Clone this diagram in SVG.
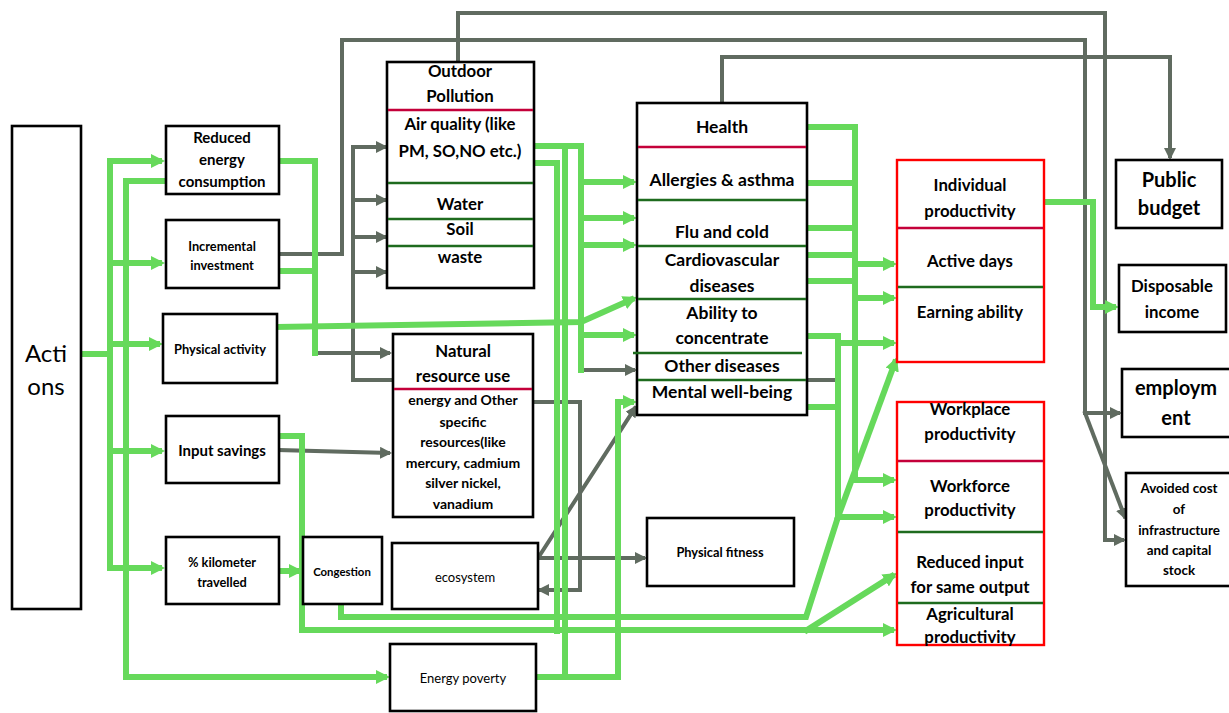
<svg xmlns="http://www.w3.org/2000/svg" width="1229" height="713" viewBox="0 0 1229 713">
<style>
.box{fill:#fff;stroke:#000;stroke-width:2.6}
.rbox{fill:#fff;stroke:#ff0000;stroke-width:2.4}
.sepr{stroke:#c4003a;stroke-width:2.5}
.sepg{stroke:#1e6b1e;stroke-width:2.5}
.g{fill:none;stroke:#66d95b;stroke-width:6;stroke-linecap:square;stroke-linejoin:miter}
.r{fill:none;stroke:#606b60;stroke-width:4;stroke-linecap:square;stroke-linejoin:miter}
.ga{marker-end:url(#ag)}
.ra{marker-end:url(#ar)}
text{font-family:Lato,"Liberation Sans",sans-serif;fill:#000;text-anchor:middle}
.b16{font-size:16.8px;font-weight:bold}
.h{font-size:17.5px;font-weight:bold}
.b14{font-size:15px;font-weight:bold}
.b13{font-size:14px;font-weight:bold}
.b12{font-size:12.8px;font-weight:bold}
.b11{font-size:11.4px;font-weight:bold}
.b20{font-size:20px;font-weight:bold}
.av{font-size:13.4px;font-weight:bold}
.n13{font-size:13px}
.n24{font-size:24px}
</style>
<defs>
<marker id="ag" markerUnits="userSpaceOnUse" markerWidth="14" markerHeight="14" refX="8" refY="7" orient="auto"><path d="M0,0 L14,7 L0,14 z" fill="#66d95b"/></marker>
<marker id="ar" markerUnits="userSpaceOnUse" markerWidth="12" markerHeight="12" refX="8" refY="6" orient="auto"><path d="M0,0 L12,6 L0,12 z" fill="#606b60"/></marker>
</defs>
<rect width="1229" height="713" fill="#fff"/>
<g id="connectors">
<path class="r ra" d="M279,254 H342 V40 H1085 V413 H1118"/>
<path class="r ra" d="M1085,413 L1124.6,516.3"/>
<path class="r ra" d="M458,62 V13 H1105 V540 H1122"/>
<path class="r ra" d="M722,102 V57 H1170 V156"/>
<path class="r ra" d="M392,380 H353 V147 H384"/>
<path class="r ra" d="M353,200 H384"/>
<path class="r ra" d="M353,237 H384"/>
<path class="r ra" d="M353,272 H384"/>
<path class="r ra" d="M315,353 H388"/>
<path class="r ra" d="M279,450 L388,453"/>
<path class="r ra" d="M533,402 H580 V590 H541"/>
<path class="r ra" d="M538,558 H643"/>
<path class="r ra" d="M538,558 L634.8,408.3"/>
<path class="r ra" d="M581,370 H633"/>
<path class="r" d="M807,380 H835"/>
<path class="g" d="M80,354 H110"/>
<path class="g" d="M110,161 V568"/>
<path class="g ga" d="M110,161 H159"/>
<path class="g ga" d="M110,263 H159"/>
<path class="g ga" d="M110,344 H157"/>
<path class="g ga" d="M110,451 H159"/>
<path class="g ga" d="M110,568 H159"/>
<path class="g ga" d="M165,181 H126 V677 H384"/>
<path class="g" d="M279,161 H315 V353"/>
<path class="g" d="M279,271 H315"/>
<path class="g ga" d="M277,327 L581,322 L631.5,299.4"/>
<path class="g" d="M533,146 H581 V370"/>
<path class="g" d="M533,163 H557 V631"/>
<path class="g" d="M565,146 V677"/>
<path class="g ga" d="M581,182 H631"/>
<path class="g ga" d="M581,218 H631"/>
<path class="g ga" d="M581,245 H631"/>
<path class="g ga" d="M581,335 H631"/>
<path class="g ga" d="M279,436 H302 V630 H891"/>
<path class="g ga" d="M807,630 L891.9,576.2"/>
<path class="g" d="M341,604 V617 H806 L838,517"/>
<path class="g ga" d="M279,571 H297"/>
<path class="g ga" d="M536,677 H618 V402 H631"/>
<path class="g ga" d="M807,127 H855 V480 H891"/>
<path class="g" d="M807,183 H855"/>
<path class="g" d="M807,228 H855"/>
<path class="g" d="M807,255 H855"/>
<path class="g" d="M807,281 H855"/>
<path class="g ga" d="M855,264 H891"/>
<path class="g ga" d="M855,298 H891"/>
<path class="g ga" d="M807,336 H838 V517 H891"/>
<path class="g" d="M807,407 H838"/>
<path class="g ga" d="M838,343 H891"/>
<path class="g ga" d="M838,517 L894.9,362.6"/>
<path class="g ga" d="M1044,202 H1093 V307 H1113"/>
</g>
<g id="actions">
<rect class="box" x="12" y="126" width="69" height="483"/>
<text class="n24" x="46" y="362">Acti</text>
<text class="n24" x="46" y="395">ons</text>
</g>
<g id="reduced-energy">
<rect class="box" x="166" y="126" width="113" height="68"/>
<text class="b14" x="222" y="143">Reduced</text>
<text class="b14" x="222" y="165">energy</text>
<text class="b14" x="222" y="187">consumption</text>
</g>
<g id="incremental-investment">
<rect class="box" x="166" y="220" width="113" height="68"/>
<text class="b12" x="222" y="251">Incremental</text>
<text class="b12" x="222" y="270">investment</text>
</g>
<g id="physical-activity">
<rect class="box" x="163" y="314" width="114" height="69"/>
<text class="b12" x="220" y="354">Physical activity</text>
</g>
<g id="input-savings">
<rect class="box" x="166" y="416" width="113" height="67"/>
<text class="b14" x="222" y="456">Input savings</text>
</g>
<g id="km-travelled">
<rect class="box" x="166" y="537" width="113" height="67"/>
<text class="b12" x="222" y="567">% kilometer</text>
<text class="b12" x="222" y="587">travelled</text>
</g>
<g id="congestion">
<rect class="box" x="303" y="537" width="79" height="67"/>
<text class="b11" x="342" y="576">Congestion</text>
</g>
<g id="outdoor-pollution">
<rect class="box" x="387" y="62" width="147" height="226"/>
<line class="sepr" x1="388" y1="110" x2="533" y2="110"/>
<line class="sepg" x1="388" y1="183" x2="533" y2="183"/>
<line class="sepg" x1="388" y1="219" x2="533" y2="219"/>
<line class="sepg" x1="388" y1="246" x2="533" y2="246"/>
<text class="b16" x="460" y="77">Outdoor</text>
<text class="b16" x="460" y="102">Pollution</text>
<text class="b16" x="460" y="130">Air quality (like</text>
<text class="b16" x="460" y="157">PM, SO,NO etc.)</text>
<text class="b16" x="460" y="210">Water</text>
<text class="b16" x="460" y="235">Soil</text>
<text class="b16" x="460" y="263">waste</text>
</g>
<g id="natural-resource-use">
<rect class="box" x="393" y="334" width="140" height="183"/>
<line class="sepr" x1="394" y1="389" x2="532" y2="389"/>
<text class="b16" x="463" y="357">Natural</text>
<text class="b16" x="463" y="382">resource use</text>
<text class="b13" x="463" y="405">energy and Other</text>
<text class="b13" x="463" y="427">specific</text>
<text class="b13" x="463" y="447">resources(like</text>
<text class="b13" x="463" y="468">mercury, cadmium</text>
<text class="b13" x="463" y="488">silver nickel,</text>
<text class="b13" x="463" y="509">vanadium</text>
</g>
<g id="ecosystem">
<rect class="box" x="392" y="543" width="146" height="66"/>
<text class="n13" x="465" y="582">ecosystem</text>
</g>
<g id="energy-poverty">
<rect class="box" x="390" y="644" width="146" height="67"/>
<text class="n13" x="463" y="683">Energy poverty</text>
</g>
<g id="health">
<rect class="box" x="637" y="103" width="170" height="312"/>
<line class="sepr" x1="638" y1="147" x2="806" y2="147"/>
<line class="sepg" x1="638" y1="200" x2="806" y2="200"/>
<line class="sepg" x1="638" y1="246" x2="806" y2="246"/>
<line class="sepg" x1="638" y1="299" x2="806" y2="299"/>
<line class="sepg" x1="633" y1="353" x2="802" y2="353"/>
<line class="sepg" x1="638" y1="380" x2="806" y2="380"/>
<text class="h" x="722" y="133">Health</text>
<text class="h" x="722" y="186">Allergies &amp; asthma</text>
<text class="h" x="722" y="238">Flu and cold</text>
<text class="h" x="722" y="266">Cardiovascular</text>
<text class="h" x="722" y="292">diseases</text>
<text class="h" x="722" y="319">Ability to</text>
<text class="h" x="722" y="344">concentrate</text>
<text class="h" x="722" y="372">Other diseases</text>
<text class="h" x="722" y="398">Mental well-being</text>
</g>
<g id="physical-fitness">
<rect class="box" x="647" y="518" width="147" height="68"/>
<text class="b12" x="720" y="557">Physical fitness</text>
</g>
<g id="individual-productivity">
<rect class="rbox" x="897" y="160" width="147" height="202"/>
<line class="sepr" x1="898" y1="228" x2="1043" y2="228"/>
<line class="sepg" x1="898" y1="287" x2="1043" y2="287"/>
<text class="b16" x="970" y="191">Individual</text>
<text class="b16" x="970" y="217">productivity</text>
<text class="b16" x="970" y="267">Active days</text>
<text class="b16" x="970" y="318">Earning ability</text>
</g>
<g id="workplace-productivity">
<rect class="rbox" x="897" y="402" width="147" height="243"/>
<line class="sepr" x1="898" y1="461" x2="1043" y2="461"/>
<line class="sepg" x1="898" y1="532" x2="1043" y2="532"/>
<line class="sepg" x1="898" y1="603" x2="1043" y2="603"/>
<text class="b16" x="970" y="415">Workplace</text>
<text class="b16" x="970" y="440">productivity</text>
<text class="b16" x="970" y="492">Workforce</text>
<text class="b16" x="970" y="516">productivity</text>
<text class="b16" x="970" y="568">Reduced input</text>
<text class="b16" x="970" y="593">for same output</text>
<text class="b16" x="970" y="620">Agricultural</text>
<text class="b16" x="970" y="643">productivity</text>
</g>
<g id="public-budget">
<rect class="box" x="1116" y="160" width="106" height="68"/>
<text class="b20" x="1169" y="187">Public</text>
<text class="b20" x="1169" y="215">budget</text>
</g>
<g id="disposable-income">
<rect class="box" x="1119" y="265" width="107" height="67"/>
<text class="b16" x="1172" y="292">Disposable</text>
<text class="b16" x="1172" y="318">income</text>
</g>
<g id="employment">
<rect class="box" x="1122" y="369" width="110" height="68"/>
<text class="b20" x="1176" y="395">employm</text>
<text class="b20" x="1176" y="425">ent</text>
</g>
<g id="avoided-cost">
<rect class="box" x="1126" y="473" width="110" height="113"/>
<text class="av" x="1179" y="493">Avoided cost</text>
<text class="av" x="1179" y="514">of</text>
<text class="av" x="1179" y="535">infrastructure</text>
<text class="av" x="1179" y="555">and capital</text>
<text class="av" x="1179" y="575">stock</text>
</g>
</svg>
